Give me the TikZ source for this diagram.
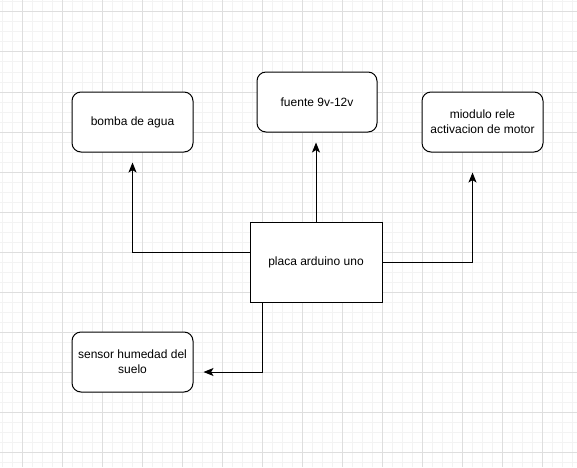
\documentclass[tikz,border=0pt]{standalone}
\usepackage{fontspec}
\setmainfont{Liberation Sans}
\usetikzlibrary{calc,arrows.meta}
\definecolor{gridmajor}{HTML}{DEDEDE}
\definecolor{gridminor}{HTML}{F3F3F3}
\tikzset{
  rbox/.style={draw=black, line width=0.75pt, fill=white, rounded corners=6.75pt, minimum width=90.75pt, minimum height=45pt, align=center, font=\fontsize{9pt}{11.25pt}\selectfont, inner sep=0pt},
  sbox/.style={draw=black, line width=0.75pt, fill=white, minimum width=99pt, minimum height=60pt, align=center, font=\fontsize{9pt}{11.25pt}\selectfont, inner sep=0pt},
  arr/.style={draw=black, line width=0.75pt, -{Stealth[length=7.5pt,width=6pt,inset=1.8pt]}}
}
\begin{document}
\begin{tikzpicture}[x=0.75pt,y=-0.75pt]
\useasboundingbox (0,0) rectangle (577,467);
\fill[white] (0,0) rectangle (577,467);
% minor grid
\foreach \gx in {2,12,...,572} \draw[gridminor, line width=0.75pt] (\gx,0) -- (\gx,467);
\foreach \gy in {2,12,...,462} \draw[gridminor, line width=0.75pt] (0,\gy) -- (577,\gy);
% major grid
\foreach \gx in {22,62,...,562} \draw[gridmajor, line width=0.75pt] (\gx,0) -- (\gx,467);
\foreach \gy in {12,52,...,452} \draw[gridmajor, line width=0.75pt] (0,\gy) -- (577,\gy);

\node[rbox] (bomba) at (132.5,122) {bomba de agua};
\node[rbox, minimum width=90pt] (fuente) at (317,102) {fuente 9v-12v};
\node[rbox] (rele) at (482.5,122) {miodulo rele\\activacion de motor};
\node[sbox] (ard) at (316,262) {placa arduino uno};
\node[rbox] (sensor) at (132.5,362) {sensor humedad del\\suelo};

\coordinate (tb) at ($(bomba.south)+(0,10)$);
\coordinate (tf) at ($(fuente.south)+(-1,10)$);
\coordinate (tr) at ($(rele.south)+(-10,20)$);
\coordinate (ts) at ($(sensor.east)+(10,10)$);

\draw[arr] ($(ard.west)+(0,-10)$) -| (tb);
\draw[arr] (ard.north) -- (tf);
\draw[arr] (ard.east) -| (tr);
\draw[arr] ($(ard.south)+(-54,0)$) |- (ts);
\end{tikzpicture}
\end{document}
